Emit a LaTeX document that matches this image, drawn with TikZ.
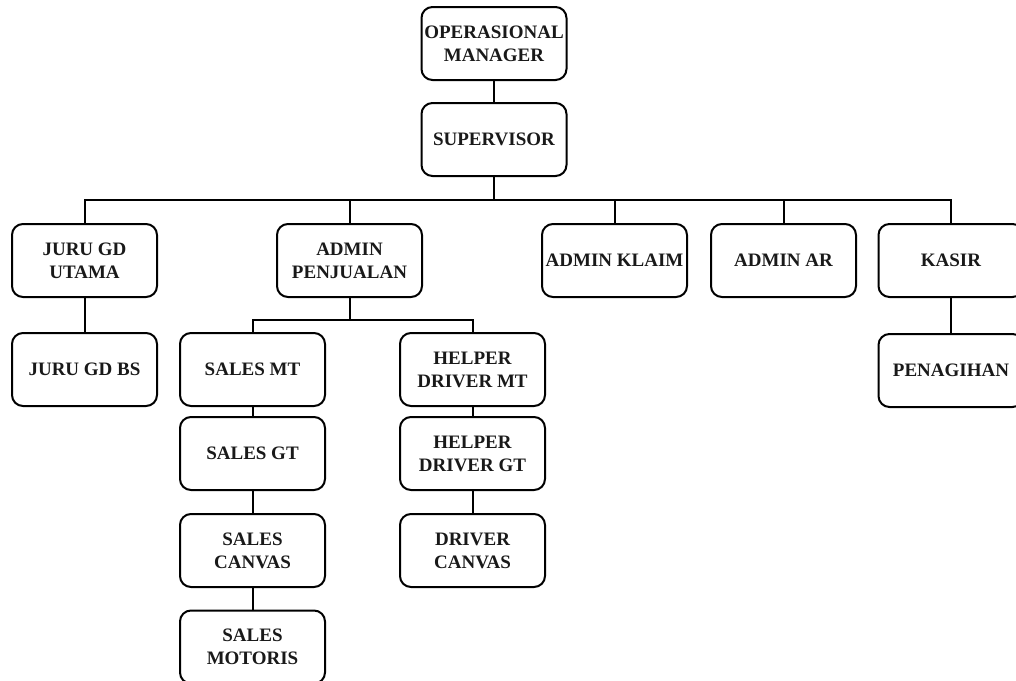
\documentclass[tikz,border=0pt]{standalone}
\usepackage{fontspec}
\setmainfont{Liberation Serif}
\begin{document}
\begin{tikzpicture}[x=1pt,y=-1pt,
  box/.style={draw=black, line width=2pt, rounded corners=11pt, minimum width=145pt, minimum height=73pt,
    align=center, inner sep=0pt, font=\bfseries\fontsize{19}{23}\selectfont, text=black!90},
  link/.style={draw=black, line width=2pt}]
\useasboundingbox (0,0) rectangle (1016,680);
\clip (0,0) rectangle (1016,680);
\node[box] (om) at (494,43.5) {OPERASIONAL\\MANAGER};
\node[box] (sup) at (494,139.5) {SUPERVISOR};
\node[box] (jgu) at (84.5,260.5) {JURU GD\\UTAMA};
\node[box] (jgb) at (84.5,369.5) {JURU GD BS};
\node[box] (ap) at (349.5,260.5) {ADMIN\\PENJUALAN};
\node[box] (ak) at (614.5,260.5) {ADMIN KLAIM};
\node[box] (aar) at (783.5,260.5) {ADMIN AR};
\node[box] (kas) at (951,260.5) {KASIR};
\node[box] (pen) at (951,370.5) {PENAGIHAN};
\node[box] (smt) at (252.5,369.5) {SALES MT};
\node[box] (sgt) at (252.5,453.5) {SALES GT};
\node[box] (sc) at (252.5,550.5) {SALES\\CANVAS};
\node[box] (smo) at (252.5,647) {SALES\\MOTORIS};
\node[box] (hdm) at (472.5,369.5) {HELPER\\DRIVER MT};
\node[box] (hdg) at (472.5,453.5) {HELPER\\DRIVER GT};
\node[box] (dc) at (472.5,550.5) {DRIVER\\CANVAS};
\coordinate (b) at (494,200);
\coordinate (b2) at (349.5,320);
\draw[link] (om) -- (sup);
\draw[link] (sup) -- (b);
\draw[link] (jgu.north) |- (b);
\draw[link] (ap.north) |- (b);
\draw[link] (ak.north) |- (b);
\draw[link] (aar.north) |- (b);
\draw[link] (kas.north) |- (b);
\draw[link] (jgu) -- (jgb);
\draw[link] (kas) -- (pen);
\draw[link] (ap) -- (b2);
\draw[link] (smt.north) |- (b2);
\draw[link] (hdm.north) |- (b2);
\draw[link] (smt) -- (sgt);
\draw[link] (sgt) -- (sc);
\draw[link] (sc) -- (smo);
\draw[link] (hdm) -- (hdg);
\draw[link] (hdg) -- (dc);
\end{tikzpicture}
\end{document}
